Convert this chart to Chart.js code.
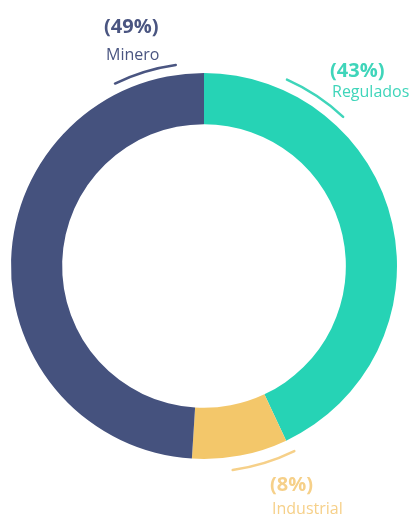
<!DOCTYPE html>
<html>
<head>
<meta charset="utf-8">
<script src="https://cdn.jsdelivr.net/npm/chart.js@4.4.1/dist/chart.umd.min.js"></script>
<style>
  html, body { margin: 0; padding: 0; background: #fff; }
  canvas { display: block; }
</style>
</head>
<body>
<canvas id="sectorChart" width="417" height="516"></canvas>
<script>
const sectors = ['Regulados', 'Industrial', 'Minero'];
const shares = [43, 8, 49];

const sliceColors = ['#26d3b5', '#f3c76a', '#45527e'];
const labelColors = ['#3fd5ba', '#f6d089', '#4a5581'];

// callout arcs outside the ring (degrees clockwise from 12 o'clock) and label offsets from the centre
const callouts = [
  { from: 24, to: 43, radius: 204, dx: 126, pctY: -189, nameY: -169 },
  { from: 154, to: 172, radius: 206, dx: 66, pctY: 225, nameY: 248 },
  { from: 334, to: 352, radius: 203, dx: -100, pctY: -233, nameY: -206 },
];

const calloutPlugin = {
  id: 'callouts',
  afterDatasetsDraw(chart) {
    const ctx = chart.ctx;
    const arc = chart.getDatasetMeta(0).data[0];
    const cx = arc.x, cy = arc.y;
    callouts.forEach((c, i) => {
      const a0 = (c.from - 90) * Math.PI / 180;
      const a1 = (c.to - 90) * Math.PI / 180;
      ctx.save();
      ctx.strokeStyle = labelColors[i];
      ctx.lineWidth = 2.5;
      ctx.lineCap = 'round';
      ctx.beginPath();
      ctx.arc(cx, cy, c.radius, a0, a1);
      ctx.stroke();

      ctx.fillStyle = labelColors[i];
      ctx.textAlign = 'left';
      ctx.textBaseline = 'alphabetic';
      ctx.font = 'bold 20px "Open Sans"';
      ctx.fillText('(' + shares[i] + '%)', cx + c.dx, cy + c.pctY);
      ctx.font = '16px "Open Sans"';
      ctx.fillText(sectors[i], cx + c.dx + 2, cy + c.nameY);
      ctx.restore();
    });
  }
};

new Chart(document.getElementById('sectorChart'), {
  type: 'doughnut',
  data: {
    labels: sectors,
    datasets: [{
      data: shares,
      backgroundColor: sliceColors,
      borderWidth: 0,
    }],
  },
  options: {
    responsive: false,
    animation: false,
    cutout: '73.5%',
    layout: { padding: { left: 11, right: 20, top: 73, bottom: 57 } },
    plugins: {
      legend: { display: false },
      tooltip: { enabled: false },
    },
  },
  plugins: [calloutPlugin],
});
</script>
</body>
</html>
